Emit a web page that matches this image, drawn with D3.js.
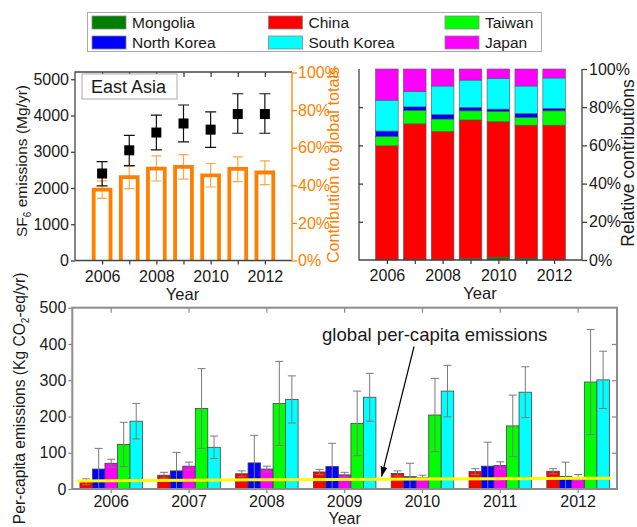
<!DOCTYPE html>
<html><head><meta charset="utf-8">
<script src="https://cdn.jsdelivr.net/npm/d3@7"></script>
<style>
body{margin:0;background:#fff}
svg{display:block;font-family:"Liberation Sans",Arial,sans-serif}
</style></head><body>
<svg id="chart" width="637" height="527"></svg>
<script>
// ---- data ----
const years = [2006, 2007, 2008, 2009, 2010, 2011, 2012];

// East Asia SF6 emissions (Mg/yr) with uncertainty range
const eaEmissions = [2400, 3040, 3530, 3780, 3610, 4040, 4040];
const eaLow = [2060, 2620, 3050, 3270, 3120, 3510, 3510];
const eaHigh = [2730, 3450, 4010, 4290, 4100, 4600, 4600];

// East Asia share of global totals (%)
const globalShare = [37.7, 44.4, 48.9, 49.8, 45.3, 48.7, 46.8];
const globalShareLow = [33.0, 38.2, 42.3, 43.3, 39.1, 42.0, 40.4];
const globalShareHigh = [42.4, 50.1, 55.6, 56.3, 51.6, 55.1, 53.0];

// Relative contributions of each country (%)
const relMongolia = [0.1, 0.3, 0.1, 0.9, 1.5, 1.0, 0.2];
const relChina = [59.7, 71.0, 67.2, 72.4, 70.9, 69.6, 70.4];
const relTaiwan = [4.9, 7.0, 6.5, 4.8, 5.4, 4.1, 7.5];
const relNorthKorea = [2.8, 1.9, 2.4, 1.8, 1.2, 2.0, 1.3];
const relSouthKorea = [16.2, 8.1, 14.9, 14.3, 16.1, 14.4, 15.9];
const relJapan = [16.3, 11.7, 8.9, 5.8, 4.9, 8.9, 4.7];

// Per-capita emissions (Kg CO2-eq/yr) and half-width of uncertainty
const pcChina = [20, 38, 42, 47, 43, 48, 49];
const pcChinaErr = [8, 8, 8, 7, 7, 8, 7];
const pcNorthKorea = [55, 50, 72, 62, 34, 63, 35];
const pcNorthKoreaErr = [57, 51, 76, 64, 37, 66, 39];
const pcJapan = [71, 63, 55, 39, 31, 65, 32];
const pcJapanErr = [11, 11, 8, 7, 7, 10, 8];
const pcTaiwan = [123, 222, 236, 181, 204, 174, 295];
const pcTaiwanErr = [61, 110, 116, 89, 101, 85, 145];
const pcSouthKorea = [187, 115, 247, 253, 270, 267, 301];
const pcSouthKoreaErr = [49, 31, 65, 66, 71, 70, 79];
const globalPerCapita = [22.5, 24, 25.5, 26.5, 27.5, 28.5, 29.5];

const legendNames = ["Mongolia", "China", "Taiwan", "North Korea", "South Korea", "Japan"];
const countryColor = {
  "Mongolia": "#007f00", "China": "#ff0000", "Taiwan": "#00ff00",
  "North Korea": "#0000ff", "South Korea": "#00ffff", "Japan": "#ff00ff"
};

// ---- drawing ----
const svg = d3.select("#chart");
const FONT = 16;
const TXT = "#1a1a1a";
const ORANGE = "#ff8000";

function styleAxis(g, color, fs) {
  g.selectAll("path.domain").remove();
  g.selectAll("line").attr("stroke", color).attr("stroke-width", 1.2);
  g.selectAll("text").attr("fill", color === ORANGE ? ORANGE : TXT)
    .attr("font-size", fs || FONT).attr("font-family", '"Liberation Sans",Arial,sans-serif');
}

// Legend
const leg = svg.append("g");
leg.append("rect").attr("x", 87.5).attr("y", 12.5).attr("width", 454).attr("height", 39)
  .attr("fill", "#fff").attr("stroke", "#aaa").attr("stroke-width", 1);
const legCols = [92, 268.5, 445];
const legRows = [16, 36];
legendNames.forEach((n, i) => {
  const cx = legCols[i % 3], cy = legRows[Math.floor(i / 3)];
  leg.append("rect").attr("x", cx).attr("y", cy).attr("width", 34).attr("height", 13)
    .attr("fill", countryColor[n]).attr("stroke", "#888").attr("stroke-width", 0.8);
  leg.append("text").attr("x", cx + 40).attr("y", cy + 12).attr("font-size", 15.5)
    .attr("fill", TXT).text(n);
});

// ===== Panel 1: East Asia emissions and share of global totals =====
const p1 = { l: 75, r: 292, t: 72, b: 260.5 };
const x1 = d3.scaleLinear().domain([2005, 2013]).range([p1.l, p1.r]);
const y1 = d3.scaleLinear().domain([0, 5200]).range([p1.b, p1.t]);
const y1r = d3.scaleLinear().domain([0, 100]).range([p1.b, p1.t + 0.5]);
const g1 = svg.append("g");

// share error bars (behind the hollow bars)
const capW1 = 5;
years.forEach((yr, i) => {
  const cx = x1(yr);
  g1.append("path")
    .attr("d", `M${cx},${y1r(globalShareLow[i])}V${y1r(globalShareHigh[i])}` +
      `M${cx - capW1},${y1r(globalShareHigh[i])}H${cx + capW1}` +
      `M${cx - capW1},${y1r(globalShareLow[i])}H${cx + capW1}`)
    .attr("stroke", "#ffa64d").attr("stroke-width", 1.2).attr("fill", "none");
});
// hollow share bars
const half1 = 0.31;
g1.selectAll("path.share").data(years).join("path").attr("class", "share")
  .attr("d", (yr, i) => `M${x1(yr - half1)},${y1r(0)}V${y1r(globalShare[i])}H${x1(yr + half1)}V${y1r(0)}`)
  .attr("fill", "none").attr("stroke", ORANGE).attr("stroke-width", 3.8);

// emissions markers with error bars
years.forEach((yr, i) => {
  const cx = x1(yr);
  g1.append("path")
    .attr("d", `M${cx},${y1(eaLow[i])}V${y1(eaHigh[i])}` +
      `M${cx - 5.5},${y1(eaHigh[i])}H${cx + 5.5}` +
      `M${cx - 5.5},${y1(eaLow[i])}H${cx + 5.5}`)
    .attr("stroke", "#111").attr("stroke-width", 1.2).attr("fill", "none");
});
g1.selectAll("rect.em").data(years).join("rect").attr("class", "em")
  .attr("x", yr => x1(yr) - 5).attr("y", (yr, i) => y1(eaEmissions[i]) - 5)
  .attr("width", 10).attr("height", 10).attr("fill", "#000");

// axes
const a1l = g1.append("g").attr("transform", `translate(${p1.l},0)`)
  .call(d3.axisLeft(y1).tickValues([0, 1000, 2000, 3000, 4000, 5000]).tickFormat(d3.format("d"))
    .tickSize(4).tickPadding(2));
styleAxis(a1l, "#333");
const a1r = g1.append("g").attr("transform", `translate(${p1.r},0)`)
  .call(d3.axisRight(y1r).tickValues([0, 20, 40, 60, 80, 100]).tickFormat(d => d + "%").tickSize(5).tickPadding(1));
styleAxis(a1r, ORANGE);
const a1b = g1.append("g").attr("transform", `translate(0,${p1.b})`)
  .call(d3.axisBottom(x1).tickValues(years).tickFormat(d => d % 2 === 0 ? d : "").tickSize(4).tickPadding(6));
styleAxis(a1b, "#333");
const a1t = g1.append("g").attr("transform", `translate(0,${p1.t})`)
  .call(d3.axisBottom(x1).tickValues(years).tickFormat("").tickSize(5));
styleAxis(a1t, "#333");
g1.append("path").attr("d", `M${p1.l},${p1.b}V${p1.t}H${p1.r}`).attr("fill", "none")
  .attr("stroke", "#444").attr("stroke-width", 1.3);
g1.append("path").attr("d", `M${p1.l},${p1.b}H${p1.r}`).attr("stroke", "#444").attr("stroke-width", 1.3);
g1.append("path").attr("d", `M${p1.r},${p1.t}V${p1.b}`).attr("stroke", ORANGE).attr("stroke-width", 1.3);

// inset label
g1.append("rect").attr("x", 82).attr("y", 74).attr("width", 95).attr("height", 25)
  .attr("fill", "#fff").attr("stroke", "#aaa").attr("stroke-width", 1);
g1.append("text").attr("x", 91).attr("y", 93).attr("font-size", 18).attr("fill", TXT).text("East Asia");

// titles
g1.append("text").attr("x", (p1.l + p1.r) / 2 - 1).attr("y", 300).attr("text-anchor", "middle")
  .attr("font-size", 16.5).attr("fill", TXT).text("Year");
const t1 = g1.append("text").attr("transform", "translate(27,161) rotate(-90)")
  .attr("text-anchor", "middle").attr("font-size", 15.5).attr("fill", TXT);
t1.append("tspan").text("SF");
t1.append("tspan").attr("font-size", 10).attr("dy", 4).text("6");
t1.append("tspan").attr("dy", -4).text(" emissions (Mg/yr)");
g1.append("text").attr("transform", "translate(338.5,165) rotate(-90)")
  .attr("text-anchor", "middle").attr("font-size", 16.2).attr("fill", ORANGE)
  .text("Contribution to global totals");

// ===== Panel 2: relative contributions =====
const p2 = { l: 359, r: 582, t: 69, b: 260 };
const x2 = d3.scaleLinear().domain([2005, 2013]).range([p2.l, p2.r]);
const y2 = d3.scaleLinear().domain([0, 100]).range([p2.b, p2.t]);
const g2 = svg.append("g");
const relSeries = {
  "Mongolia": relMongolia, "China": relChina, "Taiwan": relTaiwan,
  "North Korea": relNorthKorea, "South Korea": relSouthKorea, "Japan": relJapan
};
const relRows = years.map((yr, i) => {
  const o = { year: yr };
  legendNames.forEach(n => o[n] = relSeries[n][i]);
  return o;
});
const stack = d3.stack().keys(legendNames)(relRows);
const half2 = 0.405;
g2.selectAll("g.layer").data(stack).join("g").attr("class", "layer")
  .attr("fill", d => countryColor[d.key])
  .selectAll("rect").data(d => d).join("rect")
  .attr("x", d => x2(d.data.year - half2))
  .attr("width", x2(2005 + 2 * half2) - x2(2005))
  .attr("y", d => y2(d[1]))
  .attr("height", d => y2(d[0]) - y2(d[1]))
  .attr("stroke", "#555").attr("stroke-width", 0.6);

const a2b = g2.append("g").attr("transform", `translate(0,${p2.b})`)
  .call(d3.axisBottom(x2).tickValues(years).tickFormat(d => d % 2 === 0 ? d : "").tickSize(4).tickPadding(6));
styleAxis(a2b, "#333");
const a2r = g2.append("g").attr("transform", `translate(${p2.r},0)`)
  .call(d3.axisRight(y2).tickValues([0, 20, 40, 60, 80, 100]).tickFormat(d => d + "%").tickSize(5).tickPadding(2));
styleAxis(a2r, "#333");
const a2l = g2.append("g").attr("transform", `translate(${p2.l},0)`)
  .call(d3.axisRight(y2).tickValues([20, 40, 60, 80]).tickFormat("").tickSize(4));
styleAxis(a2l, "#333");
g2.append("path").attr("d", `M${p2.l},${p2.t}V${p2.b}H${p2.r}V${p2.t}`).attr("fill", "none")
  .attr("stroke", "#444").attr("stroke-width", 1.3);
g2.append("text").attr("x", 480).attr("y", 299).attr("text-anchor", "middle")
  .attr("font-size", 16.5).attr("fill", TXT).text("Year");
g2.append("text").attr("transform", "translate(634,163) rotate(-90)")
  .attr("text-anchor", "middle").attr("font-size", 17.5).attr("fill", TXT).text("Relative contributions");

// ===== Panel 3: per-capita emissions =====
const p3 = { l: 72.3, r: 617, t: 307.7, b: 489 };
const x3 = d3.scaleBand().domain(years).range([p3.l, p3.r]).padding(0);
const pcKeys = ["China", "North Korea", "Japan", "Taiwan", "South Korea"];
const pcSeries = {
  "China": [pcChina, pcChinaErr], "North Korea": [pcNorthKorea, pcNorthKoreaErr],
  "Japan": [pcJapan, pcJapanErr], "Taiwan": [pcTaiwan, pcTaiwanErr],
  "South Korea": [pcSouthKorea, pcSouthKoreaErr]
};
const xi = d3.scaleBand().domain(pcKeys).range([0, x3.bandwidth()]).paddingInner(0).paddingOuter(0.61);
const y3 = d3.scaleLinear().domain([0, 500]).range([p3.b, p3.t]);
const g3 = svg.append("g");

const pcRows = [];
years.forEach((yr, i) => pcKeys.forEach(k => pcRows.push({
  year: yr, key: k, v: pcSeries[k][0][i], e: pcSeries[k][1][i]
})));
g3.selectAll("rect.pc").data(pcRows).join("rect").attr("class", "pc")
  .attr("x", d => x3(d.year) + xi(d.key))
  .attr("width", xi.bandwidth())
  .attr("y", d => y3(d.v))
  .attr("height", d => y3(0) - y3(d.v))
  .attr("fill", d => countryColor[d.key])
  .attr("stroke", "#444").attr("stroke-width", 0.8);
g3.selectAll("path.err").data(pcRows).join("path").attr("class", "err")
  .attr("d", d => {
    const cx = x3(d.year) + xi(d.key) + xi.bandwidth() / 2;
    const lo = y3(Math.max(0, d.v - d.e)), hi = y3(d.v + d.e);
    let s = `M${cx},${lo}V${hi}M${cx - 4},${hi}H${cx + 4}`;
    if (d.v - d.e > 0) s += `M${cx - 4},${lo}H${cx + 4}`;
    return s;
  })
  .attr("stroke", "#7a7a7a").attr("stroke-width", 1).attr("fill", "none");

// global per-capita line spanning the year groups
const bw = x3.bandwidth();
const gl = years.map((yr, i) => [x3(yr) + bw / 2, globalPerCapita[i]]);
gl.unshift([x3(years[0]) + bw * 0.06, globalPerCapita[0] - 0.5]);
gl.push([x3(years[years.length - 1]) + bw * 0.92, globalPerCapita[globalPerCapita.length - 1] + 0.3]);
g3.append("path").datum(gl)
  .attr("d", d3.line().x(d => d[0]).y(d => y3(d[1])))
  .attr("fill", "none").attr("stroke", "#ffff00").attr("stroke-width", 3);

// axes
const a3l = g3.append("g").attr("transform", `translate(${p3.l},0)`)
  .call(d3.axisLeft(y3).tickValues([0, 100, 200, 300, 400, 500]).tickSize(4).tickPadding(2));
styleAxis(a3l, "#888");
const a3r = g3.append("g").attr("transform", `translate(${p3.r},0)`)
  .call(d3.axisLeft(y3).tickValues([100, 200, 300, 400]).tickFormat("").tickSize(5));
styleAxis(a3r, "#888");
const a3b = g3.append("g").attr("transform", `translate(0,${p3.b})`)
  .call(d3.axisBottom(x3).tickSize(4).tickPadding(2.5));
styleAxis(a3b, "#888");
const a3t = g3.append("g").attr("transform", `translate(0,${p3.t})`)
  .call(d3.axisBottom(x3).tickFormat("").tickSize(5));
styleAxis(a3t, "#888");
g3.append("rect").attr("x", p3.l).attr("y", p3.t).attr("width", p3.r - p3.l).attr("height", p3.b - p3.t)
  .attr("fill", "none").attr("stroke", "#8c8c8c").attr("stroke-width", 2);

g3.append("text").attr("x", x3(2009) + bw / 2).attr("y", 523.5).attr("text-anchor", "middle")
  .attr("font-size", 16).attr("fill", TXT).text("Year");
const t3 = g3.append("text").attr("transform", `translate(25,${(p3.t + p3.b) / 2}) rotate(-90)`)
  .attr("text-anchor", "middle").attr("font-size", 15.6).attr("fill", TXT);
t3.append("tspan").text("Per-capita emissions (Kg CO");
t3.append("tspan").attr("font-size", 10).attr("dy", 4).text("2");
t3.append("tspan").attr("dy", -4).text("-eq/yr)");

// annotation with arrow pointing at the global line
g3.append("text").attr("x", 322).attr("y", 341).attr("font-size", 18.6).attr("fill", TXT)
  .text("global per-capita emissions");
const tip = [x3(2010) - 2, y3(34)];
const tail = [x3(2010) + 30.5, y3(393)];
svg.append("defs").append("marker").attr("id", "arrowhead")
  .attr("viewBox", "0 0 10 10").attr("refX", 10).attr("refY", 5)
  .attr("markerWidth", 10).attr("markerHeight", 10).attr("markerUnits", "userSpaceOnUse")
  .attr("orient", "auto")
  .append("path").attr("d", "M0,1.5L10,5L0,8.5Z").attr("fill", "#000");
g3.append("line").attr("x1", tail[0]).attr("y1", tail[1]).attr("x2", tip[0]).attr("y2", tip[1])
  .attr("stroke", "#000").attr("stroke-width", 1.2).attr("marker-end", "url(#arrowhead)");
</script>
</body></html>
